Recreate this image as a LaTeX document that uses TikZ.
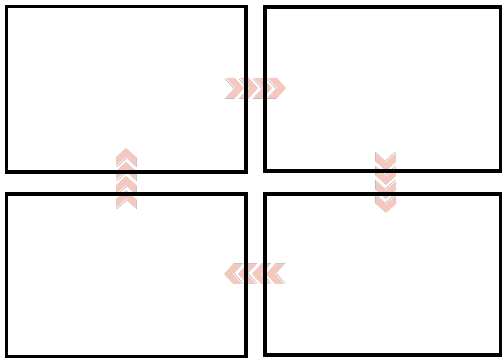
\documentclass[tikz,border=0pt]{standalone}
\definecolor{chevpink}{HTML}{F5C8BF}
\definecolor{chevshade}{HTML}{9C9C9C}
\tikzset{
  frame/.style={draw=black,line width=3.2pt,fill=none,inner sep=0pt},
  pics/chev/.style={code={
    \fill[chevshade] (-10.2,-10.6) -- (-0.8,-10.6) -- (8,-0.8) -- (-0.8,9.2) -- (-10.2,9.2) -- (-1.2,-0.8) -- cycle;
    \fill[white] (-9.5,-10) -- (-0.5,-10) -- (8,-0.5) -- (-0.5,9) -- (-9.5,9) -- (-0.6,-0.5) -- cycle;
    \fill[chevpink] (-9,-10) -- (0,-10) -- (9,0) -- (0,10) -- (-9,10) -- (0,0) -- cycle;
  }}
}
\begin{document}
\begin{tikzpicture}[x=1pt,y=1pt]
\useasboundingbox (0,0) rectangle (502,358);
\fill[white] (0,0) rectangle (502,358);
% chevrons (drawn beneath the frames)
\foreach \cx in {235,249,263,277} \pic at (\cx,270) {chev};
\foreach \cx in {233,247,261,275} \pic[rotate=180] at (\cx,84) {chev};
\foreach \cy in {159,173,187,201} \pic[rotate=90] at (126,\cy) {chev};
\foreach \cy in {154,168,182,196} \pic[rotate=-90] at (386,\cy) {chev};
% frames
\node[frame,minimum width=239.5pt,minimum height=165.5pt] (tl) at (126.25,268.75) {};
\node[frame,minimum width=235.5pt,minimum height=164pt] (tr) at (382.75,269) {};
\node[frame,minimum width=239.5pt,minimum height=162.5pt] (bl) at (126.25,82.75) {};
\node[frame,minimum width=235.5pt,minimum height=161pt] (br) at (382.75,83.5) {};
\end{tikzpicture}
\end{document}
